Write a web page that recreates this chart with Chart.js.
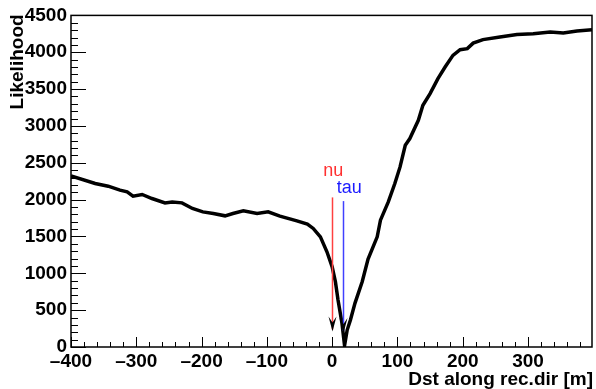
<!DOCTYPE html>
<html>
<head>
<meta charset="utf-8">
<script src="https://cdn.jsdelivr.net/npm/chart.js@4"></script>
<style>
  html, body { margin: 0; padding: 0; background: #fff; }
  #wrap { width: 596px; height: 389px; }
</style>
</head>
<body>
<div id="wrap"><canvas id="c" width="596" height="389"></canvas></div>
<script>
// distance along reconstructed direction [m] and likelihood
const distX = [-400, -363, -343, -325, -314, -305, -291, -276, -256, -245, -230, -214, -198, -182,
  -164, -152, -136, -115, -98, -80, -54, -38, -29, -18, -8, 0, 5, 9, 15, 19,
  23, 28, 35, 46, 55, 69, 74, 86, 96, 104, 112, 119, 132, 139, 150, 162, 173, 185,
  196, 207, 216, 231, 257, 283, 308, 334, 354, 375, 398];
const likelihood = [2322, 2219, 2182, 2128, 2105, 2047, 2070, 2015, 1956, 1969, 1956, 1880, 1834, 1812,
  1780, 1812, 1847, 1812, 1834, 1776, 1712, 1667, 1609, 1495, 1292, 1088, 885, 637, 325, 20,
  230, 366, 596, 885, 1193, 1495, 1721, 1969, 2219, 2444, 2738, 2829, 3077, 3280, 3439, 3642, 3799, 3958,
  4035, 4049, 4124, 4171, 4206, 4242, 4252, 4273, 4260, 4287, 4306];

// labelled x ticks
const xTickValues = [-400, -300, -200, -100, 0, 100, 200, 300];

// marker arrows: name, position, top / tip in likelihood units
const markerNames = ['nu', 'tau'];
const markerPos = [0, 17];
const markerTop = [2030, 1980];
const markerTip = [210, 190];
const markerColors = ['#ff4040', '#4040ff'];
const markerTextColors = ['#ff3030', '#1a1aff'];

const FONT = 'Liberation Sans, Arial, Helvetica, sans-serif';

const rootFrame = {
  id: 'rootFrame',
  afterDatasetsDraw(chart) {
    const { ctx, chartArea: a, scales: { x, y } } = chart;
    ctx.save();

    // marker arrows
    markerNames.forEach((name, i) => {
      const px = Math.round(x.getPixelForValue(markerPos[i])) + 0.5;
      const yTop = y.getPixelForValue(markerTop[i]);
      const yTip = y.getPixelForValue(markerTip[i]);
      ctx.strokeStyle = markerColors[i];
      ctx.lineWidth = 1.5;
      ctx.beginPath();
      ctx.moveTo(px, yTop);
      ctx.lineTo(px, yTip - 2);
      ctx.stroke();
      ctx.fillStyle = '#000';
      ctx.beginPath();
      ctx.moveTo(px, yTip);
      ctx.lineTo(px - 4, yTip - 15);
      ctx.lineTo(px, yTip - 9);
      ctx.lineTo(px + 4, yTip - 15);
      ctx.closePath();
      ctx.fill();
    });
    ctx.font = '18px ' + FONT;
    ctx.textAlign = 'center';
    ctx.textBaseline = 'alphabetic';
    ctx.fillStyle = markerTextColors[0];
    ctx.fillText(markerNames[0], x.getPixelForValue(markerPos[0]) + 1, 176);
    ctx.fillStyle = markerTextColors[1];
    ctx.fillText(markerNames[1], x.getPixelForValue(markerPos[1]) + 6, 193);

    // frame
    ctx.strokeStyle = '#000';
    ctx.lineWidth = 1.5;
    ctx.strokeRect(a.left, a.top, a.right - a.left, a.bottom - a.top);

    // ticks inside the frame
    ctx.lineWidth = 1;
    ctx.beginPath();
    for (let v = 0; v <= 4500; v += 100) {
      const py = Math.round(y.getPixelForValue(v)) + 0.5;
      const len = v % 500 === 0 ? 15 : 7;
      ctx.moveTo(a.left, py);
      ctx.lineTo(a.left + len, py);
    }
    for (let v = -400; v <= 398; v += 20) {
      const px = Math.round(x.getPixelForValue(v)) + 0.5;
      const len = v % 100 === 0 ? 10 : 5;
      ctx.moveTo(px, a.bottom);
      ctx.lineTo(px, a.bottom - len);
    }
    ctx.stroke();

    // axis titles
    ctx.fillStyle = '#000';
    ctx.font = 'bold 19px ' + FONT;
    ctx.textAlign = 'right';
    ctx.textBaseline = 'alphabetic';
    ctx.fillText('Dst along rec.dir [m]', a.right + 1, 385);
    ctx.save();
    ctx.translate(23, a.top - 1);
    ctx.rotate(-Math.PI / 2);
    ctx.textAlign = 'right';
    ctx.fillText('Likelihood', 0, 0);
    ctx.restore();

    ctx.restore();
  }
};

new Chart(document.getElementById('c'), {
  type: 'line',
  data: {
    datasets: [{
      data: distX.map((d, i) => ({ x: d, y: likelihood[i] })),
      borderColor: '#000',
      borderWidth: 3.5,
      pointRadius: 0,
      tension: 0,
      fill: false
    }]
  },
  options: {
    responsive: false,
    animation: false,
    layout: { padding: { top: 14, right: 4, left: 0, bottom: 0 } },
    plugins: { legend: { display: false }, tooltip: { enabled: false } },
    scales: {
      x: {
        type: 'linear',
        min: -400,
        max: 398,
        grid: { display: false, drawTicks: false },
        border: { display: false },
        afterBuildTicks: s => { s.ticks = xTickValues.map(v => ({ value: v })); },
        afterFit: s => { s.height = 42; },
        ticks: {
          padding: 3,
          autoSkip: false,
          color: '#000',
          font: { family: FONT, size: 19, weight: 'bold' },
          maxRotation: 0,
          callback: v => v < 0 ? '\u2013' + Math.abs(v) : String(v)
        }
      },
      y: {
        min: 0,
        max: 4500,
        grid: { display: false, drawTicks: false },
        border: { display: false },
        afterFit: s => { s.width = 71; },
        ticks: {
          stepSize: 500,
          padding: 4,
          autoSkip: false,
          color: '#000',
          font: { family: FONT, size: 19, weight: 'bold' },
          callback: v => String(v)
        }
      }
    }
  },
  plugins: [rootFrame]
});
</script>
</body>
</html>
